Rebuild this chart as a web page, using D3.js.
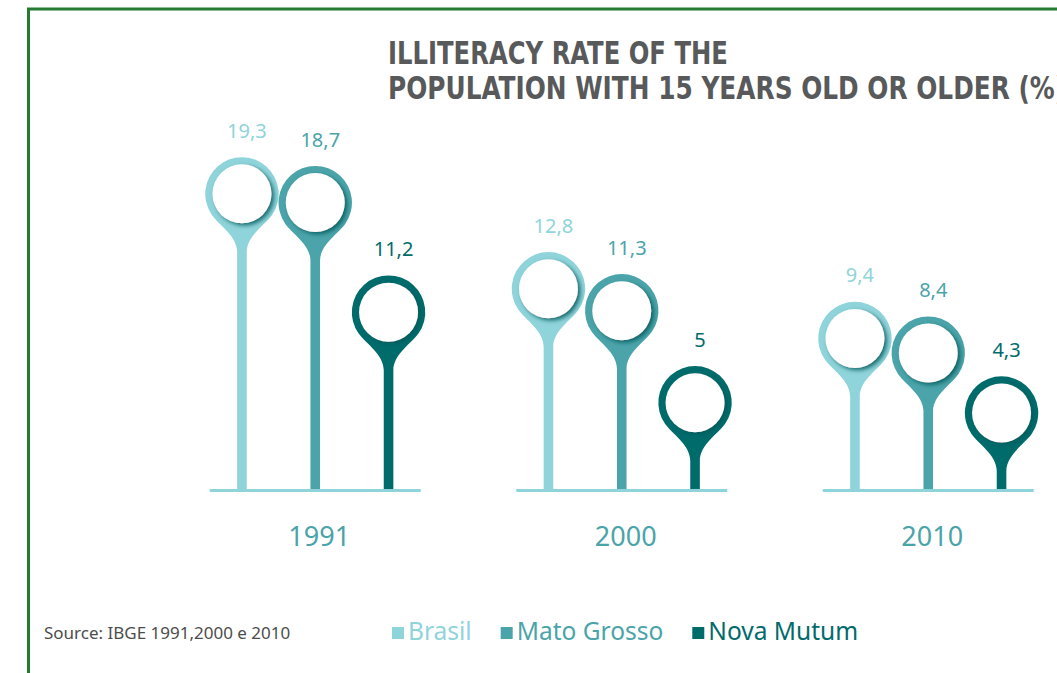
<!DOCTYPE html>
<html>
<head>
<meta charset="utf-8">
<script src="https://cdn.jsdelivr.net/npm/d3@7"></script>
<style>
  html, body { margin: 0; padding: 0; background: #ffffff; }
  svg { display: block; }
</style>
</head>
<body>
<svg id="chart" width="1057" height="673"></svg>
<script>
// ---------- data ----------
const years = ["1991", "2000", "2010"];
const seriesNames = ["Brasil", "Mato Grosso", "Nova Mutum"];
const brasil = [19.3, 12.8, 9.4];
const matoGrosso = [18.7, 11.3, 8.4];
const novaMutum = [11.2, 5, 4.3];
const seriesValues = [brasil, matoGrosso, novaMutum];
const titleLines = ["ILLITERACY RATE OF THE", "POPULATION WITH 15 YEARS OLD OR OLDER (%)"];
const sourceText = "Source: IBGE 1991,2000 e 2010";

// ---------- styles ----------
const colors = ["#8fd4da", "#4aa4a9", "#006b6b"];
const W = 1057, H = 673;
const baseY = 490.5;

const svg = d3.select("#chart");

// shadow filter for the inner white disc
const defs = svg.append("defs");
const f = defs.append("filter").attr("id", "discShadow")
  .attr("x", "-40%").attr("y", "-40%").attr("width", "180%").attr("height", "180%");
f.append("feDropShadow").attr("dx", 2.6).attr("dy", 2.2).attr("stdDeviation", 2)
  .attr("flood-color", "#005a5c").attr("flood-opacity", 0.85);

// frame
svg.append("path")
  .attr("d", `M28.5,${H} L28.5,9 L${W},9`)
  .attr("fill", "none").attr("stroke", "#237a30").attr("stroke-width", 3);

// title (condensed horizontally to match the narrow heading face)
const titleG = svg.append("g");
const titleTexts = titleG.selectAll("text").data(titleLines).join("text")
  .attr("x", 0).attr("y", 0)
  .attr("font-family", "'Liberation Sans Narrow', 'DejaVu Sans Condensed', sans-serif")
  .attr("font-weight", "bold").attr("font-size", 32)
  .attr("fill", "#58595b").text(d => d);
titleTexts.each(function (d, i) {
  let s;
  if (i === 0) {
    s = 340 / this.getComputedTextLength();
  } else {
    const k = d.indexOf("(");
    s = 642 / this.getSubStringLength(0, k + 1);
  }
  d3.select(this).attr("transform", `translate(388,${64 + i * 35}) scale(${s},1)`);
});

// ---------- scales ----------
const xGroup = d3.scaleBand().domain(years).range([162, 1081.5]);
const xInner = d3.scalePoint().domain(seriesNames).range([-73.3, 73.3]);
const y = d3.scaleLinear().domain([0, 20]).range([475.8, 183.6]);
const color = d3.scaleOrdinal().domain(seriesNames).range(colors);

const R = 36.7, r = 29.5, w = 4.8;
function pinPath(cx, cy, base) {
  const phi = 55 * Math.PI / 180;
  const px = R * Math.sin(phi), py = R * Math.cos(phi);
  const tx = Math.cos(phi), ty = Math.sin(phi);
  const k2 = 12;
  const neck = cy + 58;
  return `M${cx - w},${base} L${cx - w},${neck} ` +
    `C${cx - w},${neck - 16} ${cx - px + tx * k2},${cy + py + ty * k2} ${cx - px},${cy + py} ` +
    `A${R},${R} 0 1 1 ${cx + px},${cy + py} ` +
    `C${cx + px - tx * k2},${cy + py + ty * k2} ${cx + w},${neck - 16} ${cx + w},${neck} ` +
    `L${cx + w},${base} Z`;
}

const rows = [];
years.forEach((yr, gi) => {
  seriesNames.forEach((s, si) => {
    rows.push({ year: yr, series: s, value: seriesValues[si][gi] });
  });
});

const groupCenter = yr => xGroup(yr) + xGroup.bandwidth() / 2;
const cxOf = d => groupCenter(d.year) + xInner(d.series);

const pins = svg.append("g").selectAll("g").data(rows).join("g");
pins.append("path")
  .attr("d", d => pinPath(cxOf(d), y(d.value), baseY))
  .attr("fill", d => color(d.series));
pins.append("circle")
  .attr("cx", d => cxOf(d)).attr("cy", d => y(d.value)).attr("r", r)
  .attr("fill", "#ffffff").attr("filter", "url(#discShadow)");
pins.append("text")
  .attr("x", d => cxOf(d) + 5).attr("y", d => y(d.value) - 56)
  .attr("text-anchor", "middle")
  .attr("font-family", "'Noto Sans', sans-serif").attr("font-size", 20)
  .attr("fill", d => color(d.series))
  .text(d => String(d.value).replace(".", ","));

// baselines
svg.append("g").selectAll("line").data(years).join("line")
  .attr("x1", d => groupCenter(d) - 105.5)
  .attr("x2", d => groupCenter(d) + 105.5)
  .attr("y1", baseY).attr("y2", baseY)
  .attr("stroke", colors[0]).attr("stroke-width", 2.8);

// year labels
svg.append("g").selectAll("text").data(years).join("text")
  .attr("x", d => groupCenter(d) + 4)
  .attr("y", 546)
  .attr("text-anchor", "middle")
  .attr("font-family", "'Noto Sans', sans-serif").attr("font-size", 27)
  .attr("fill", "#4aa4a9")
  .text(d => d);

// source
svg.append("text")
  .attr("x", 44).attr("y", 639)
  .attr("font-family", "'Noto Sans', sans-serif").attr("font-size", 17)
  .attr("fill", "#4d4d4d")
  .text(sourceText);

// legend
const legend = svg.append("g");
let lx = 392;
seriesNames.forEach((s, i) => {
  legend.append("rect").attr("x", lx).attr("y", 627).attr("width", 12).attr("height", 12)
    .attr("fill", color(s));
  const t = legend.append("text").attr("x", lx + 16).attr("y", 640)
    .attr("font-family", "'Noto Sans', sans-serif").attr("font-size", 24.5)
    .attr("fill", color(s)).text(s);
  lx += 16 + t.node().getComputedTextLength() + 29;
});
</script>
</body>
</html>
